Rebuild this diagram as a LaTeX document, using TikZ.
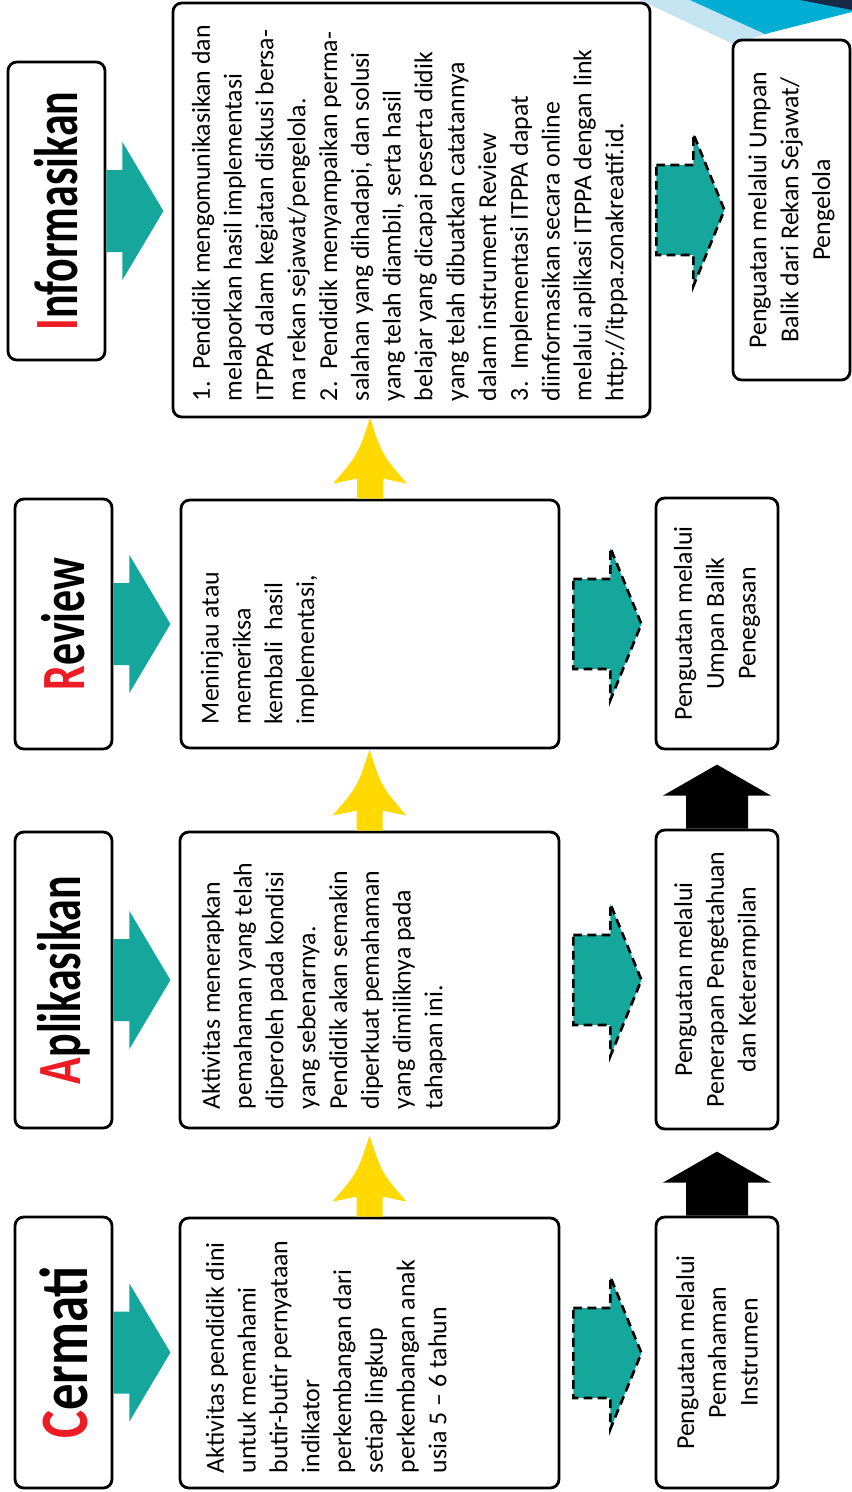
\documentclass[tikz,border=0pt]{standalone}
\usepackage{fontspec}
\setmainfont{Carlito}
\usepackage{graphicx}
\usetikzlibrary{fit}

\definecolor{stepteal}{RGB}{21,167,155}
\definecolor{stepyellow}{RGB}{255,217,0}
\definecolor{titlered}{RGB}{237,28,36}
\definecolor{decolight}{RGB}{196,228,242}
\definecolor{decocyan}{RGB}{0,174,212}
\definecolor{deconavy}{RGB}{22,42,72}

\newcommand\ttl[2]{\scalebox{1}[1.4]{\textcolor{titlered}{#1}#2}}

\begin{document}
\begin{tikzpicture}[x=0.02cm,y=-0.02cm,
  roundbox/.style={draw,line width=1.6pt,rounded corners=5pt,inner sep=0pt},
  titletext/.style={rotate=90,inner sep=0pt,font=\fontsize{25}{30}\selectfont\bfseries},
  desctext/.style={rotate=90,inner sep=0pt,align=left,anchor=north west,font=\fontsize{14.7}{18.1}\selectfont},
  fbtext/.style={rotate=90,inner sep=0pt,align=center,font=\fontsize{14.7}{18.1}\selectfont},
  tealarrow/.style={fill=stepteal},
  dasharrow/.style={fill=stepteal,draw=black,line width=1.5pt,dash pattern=on 5pt off 3pt},
  yellowarrow/.style={fill=stepyellow},
  blackarrow/.style={fill=black}]
\useasboundingbox (0,0) rectangle (852,1492);
\fill[white] (0,0) rectangle (852,1492);

% corner decoration
\fill[decolight] (640,0) -- (733,44) -- (770,33) -- (690,0) -- cycle;
\fill[decocyan] (690,0) -- (765,34) -- (852,12) -- (852,0) -- cycle;
\fill[deconavy] (800,0) -- (852,10) -- (852,0) -- cycle;

% Cermati
\node[roundbox, fit={(15,1217) (112,1488)}] (ct) {};
\node[roundbox, fit={(180,1218) (559,1488)}] (cd) {};
\node[roundbox, fit={(656,1217) (778,1488)}] (cf) {};
% Aplikasikan
\node[roundbox, fit={(15,832) (112,1128)}] (at) {};
\node[roundbox, fit={(180,832) (559,1128)}] (ad) {};
\node[roundbox, fit={(656,830) (778,1129)}] (af) {};
% Review
\node[roundbox, fit={(15,499) (112,749)}] (rt) {};
\node[roundbox, fit={(181,500) (559,748)}] (rd) {};
\node[roundbox, fit={(656,498) (778,749)}] (rf) {};
% Informasikan
\node[roundbox, fit={(8,62) (105,360)}] (it) {};
\node[roundbox, fit={(173,3) (650,417)}] (id) {};
\node[roundbox, fit={(733,40) (850,380)}] (if) {};

\node[titletext, font=\fontsize{30}{36}\selectfont\bfseries] (ctl) at (ct) {\scalebox{1}[0.92]{\ttl{C}{ermati}}};
\node[titletext] (atl) at (at) {\ttl{A}{plikasikan}};
\node[titletext] (rtl) at (rt) {\ttl{R}{eview}};
\node[titletext] (itl) at (it) {\ttl{I}{nformasikan}};

\node[desctext] (cdl) at ([shift={(27,-16)}]cd.south west)
  {Aktivitas pendidik dini\\untuk memahami\\butir-butir pernyataan\\indikator\\perkembangan dari\\setiap lingkup\\perkembangan anak\\usia 5 – 6 tahun};
\node[desctext] (adl) at ([shift={(23,-20)}]ad.south west)
  {Aktivitas menerapkan\\pemahaman yang telah\\diperoleh pada kondisi\\yang sebenarnya.\\Pendidik akan semakin\\diperkuat pemahaman\\yang dimiliknya pada\\tahapan ini.};
\node[desctext] (rdl) at ([shift={(21,-25)}]rd.south west)
  {Meninjau atau\\memeriksa\\kembali\ \ hasil\\implementasi,};
\node[desctext] (idl) at ([shift={(20,-17)}]id.south west)
  {1.\ \ Pendidik mengomunikasikan dan\\melaporkan hasil implementasi\\ITPPA dalam kegiatan diskusi bersa-\\ma rekan sejawat/pengelola.\\2.\ \ Pendidik menyampaikan perma-\\salahan yang dihadapi, dan solusi\\yang telah diambil, serta hasil\\belajar yang dicapai peserta didik\\yang telah dibuatkan catatannya\\dalam instrument Review\\3.\ \ Implementasi ITPPA dapat\\diinformasikan secara online\\melalui aplikasi ITPPA dengan link\\http://itppa.zonakreatif.id.};

\node[fbtext] (cfl) at (cf) {Penguatan melalui\\Pemahaman\\Instrumen};
\node[fbtext] (afl) at (af) {Penguatan melalui\\Penerapan Pengetahuan\\dan Keterampilan};
\node[fbtext] (rfl) at (rf) {Penguatan melalui\\Umpan Balik\\Penegasan};
\node[fbtext] (ifl) at (if) {Penguatan melalui Umpan\\Balik dari Rekan Sejawat/\\Pengelola};

% arrows
\foreach \row in {c,a,r,i}{
  \begin{scope}[shift={(\row t.east)}]
    \fill[tealarrow] (0,-41) -- (16,-41) -- (16,-69) -- (57,0) -- (16,69) -- (16,41) -- (0,41) -- cycle;
  \end{scope}
}
\foreach \row/\gap in {c/13,a/13,r/13,i/5}{
  \begin{scope}[shift={(\row d.east)}, xshift=\gap*0.02cm]
    \filldraw[dasharrow] (0,-45) -- (37,-45) -- (37,-76) -- (68,0) -- (37,76) -- (37,45) -- (0,45) -- cycle;
  \end{scope}
}
\foreach \from in {cd,ad,rd}{
  \begin{scope}[shift={(\from.north)}]
    \fill[yellowarrow] (-13,0) -- (-13,-20) -- (-37,-15) .. controls (-12,-44) .. (0,-81)
      .. controls (12,-44) .. (37,-15) -- (13,-20) -- (13,0) -- cycle;
  \end{scope}
}
\foreach \from in {cf,af}{
  \begin{scope}[shift={(\from.north)}]
    \fill[blackarrow] (-31,0) -- (-31,-33) -- (-54,-33) -- (0,-64) -- (54,-33) -- (31,-33) -- (31,0) -- cycle;
  \end{scope}
}
\end{tikzpicture}
\end{document}
